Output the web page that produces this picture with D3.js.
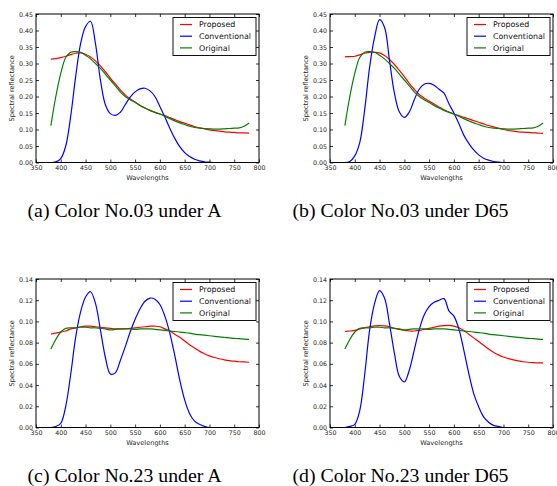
<!DOCTYPE html>
<html>
<head>
<meta charset="utf-8">
<script src="https://cdn.jsdelivr.net/npm/d3@7"></script>
<style>
  body { margin: 0; background: #fff; }
  svg { display: block; }
  .tick text { font-family: "DejaVu Sans", sans-serif; font-size: 6.3px; fill: #222; }
</style>
</head>
<body>
<div id="chart-area"></div>
<script>
// wavelengths (nm), 10 nm steps
let wavelengths = d3.range(380, 781, 10)

let seriesNames = ["Proposed", "Conventional", "Original"]
let seriesColors = ["#ff0000", "#0000ff", "#008000"]

let xTicks = [350, 400, 450, 500, 550, 600, 650, 700, 750, 800]
let yTicks03 = [0, 0.05, 0.10, 0.15, 0.20, 0.25, 0.30, 0.35, 0.40, 0.45]
let yTicks23 = [0, 0.02, 0.04, 0.06, 0.08, 0.10, 0.12, 0.14]

let captions = ["(a) Color No.03 under A", "(b) Color No.03 under D65",
                "(c) Color No.23 under A", "(d) Color No.23 under D65"]

// Color No.03
let original03 = [0.112, 0.200, 0.270, 0.318, 0.334, 0.336, 0.334, 0.325, 0.314, 0.300,
  0.285, 0.268, 0.250, 0.232, 0.214, 0.200, 0.190, 0.182, 0.173, 0.165,
  0.158, 0.152, 0.147, 0.140, 0.133, 0.126, 0.120, 0.115, 0.110, 0.106,
  0.104, 0.103, 0.102, 0.101, 0.101, 0.102, 0.103, 0.104, 0.105, 0.110, 0.120]
let proposedA03 = [0.313, 0.315, 0.318, 0.322, 0.327, 0.331, 0.332, 0.328, 0.320, 0.308,
  0.293, 0.275, 0.256, 0.238, 0.220, 0.205, 0.193, 0.183, 0.173, 0.165,
  0.158, 0.152, 0.147, 0.142, 0.136, 0.130, 0.124, 0.119, 0.114, 0.109,
  0.105, 0.102, 0.099, 0.097, 0.095, 0.093, 0.092, 0.091, 0.090, 0.090, 0.089]
let conventionalA03 = [0.000, 0.002, 0.012, 0.050, 0.140, 0.260, 0.360, 0.412, 0.428, 0.360,
  0.250, 0.175, 0.148, 0.143, 0.152, 0.175, 0.198, 0.214, 0.223, 0.225,
  0.217, 0.200, 0.170, 0.138, 0.104, 0.073, 0.048, 0.030, 0.018, 0.010,
  0.005, 0.002, 0.001, 0.000, 0.000, 0.000, 0.000, 0.000, 0.000, 0.000, 0.000]
let proposedD6503 = [0.320, 0.321, 0.322, 0.326, 0.331, 0.334, 0.334, 0.332, 0.324, 0.312,
  0.297, 0.279, 0.260, 0.240, 0.222, 0.206, 0.195, 0.186, 0.177, 0.168,
  0.160, 0.153, 0.147, 0.142, 0.137, 0.132, 0.127, 0.122, 0.117, 0.112,
  0.108, 0.104, 0.100, 0.097, 0.095, 0.093, 0.092, 0.091, 0.090, 0.089, 0.088]
let conventionalD6503 = [0.000, 0.003, 0.020, 0.060, 0.160, 0.290, 0.380, 0.433, 0.410, 0.310,
  0.210, 0.153, 0.137, 0.153, 0.190, 0.222, 0.237, 0.240, 0.234, 0.222,
  0.210, 0.178, 0.150, 0.118, 0.083, 0.058, 0.038, 0.023, 0.013, 0.007,
  0.003, 0.001, 0.000, 0.000, 0.000, 0.000, 0.000, 0.000, 0.000, 0.000, 0.000]

// Color No.23
let original23 = [0.074, 0.083, 0.090, 0.0935, 0.094, 0.094, 0.0945, 0.0945, 0.094, 0.094,
  0.0935, 0.093, 0.092, 0.0925, 0.093, 0.093, 0.093, 0.0925, 0.093, 0.093,
  0.093, 0.0925, 0.092, 0.0915, 0.091, 0.0905, 0.090, 0.0895, 0.089, 0.088,
  0.0875, 0.087, 0.0865, 0.086, 0.0855, 0.085, 0.0845, 0.084, 0.0838, 0.0833, 0.083]
let proposedA23 = [0.088, 0.089, 0.090, 0.091, 0.093, 0.094, 0.095, 0.0955, 0.0955, 0.095,
  0.0945, 0.094, 0.0935, 0.093, 0.093, 0.093, 0.0935, 0.094, 0.0945, 0.095,
  0.0955, 0.0955, 0.095, 0.093, 0.091, 0.088, 0.085, 0.0815, 0.078, 0.075,
  0.072, 0.0695, 0.0675, 0.066, 0.0648, 0.0638, 0.063, 0.0625, 0.062, 0.0618, 0.0615]
let conventionalA23 = [0.000, 0.001, 0.004, 0.020, 0.050, 0.085, 0.109, 0.123, 0.128, 0.117,
  0.092, 0.066, 0.0505, 0.0515, 0.063, 0.076, 0.090, 0.102, 0.112, 0.119,
  0.122, 0.121, 0.116, 0.105, 0.089, 0.068, 0.045, 0.026, 0.013, 0.006,
  0.003, 0.001, 0.000, 0.000, 0.000, 0.000, 0.000, 0.000, 0.000, 0.000, 0.000]
let proposedD6523 = [0.0905, 0.091, 0.0915, 0.093, 0.094, 0.095, 0.0958, 0.096, 0.0958, 0.095,
  0.0935, 0.0925, 0.0915, 0.091, 0.091, 0.0915, 0.0925, 0.0935, 0.0945, 0.0955,
  0.096, 0.0962, 0.0955, 0.094, 0.0915, 0.088, 0.0845, 0.081, 0.0775, 0.074,
  0.071, 0.0685, 0.0665, 0.065, 0.0638, 0.0628, 0.062, 0.0615, 0.0612, 0.061, 0.061]
let conventionalD6523 = [0.000, 0.001, 0.003, 0.016, 0.050, 0.092, 0.117, 0.129, 0.122, 0.098,
  0.070, 0.048, 0.043, 0.054, 0.073, 0.092, 0.106, 0.114, 0.118, 0.120,
  0.1215, 0.110, 0.105, 0.093, 0.073, 0.051, 0.032, 0.0195, 0.010, 0.005,
  0.002, 0.001, 0.000, 0.000, 0.000, 0.000, 0.000, 0.000, 0.000, 0.000, 0.000]

let W = 557, H = 486

let svg = d3.select("#chart-area")
  .append("svg")
    .attr("width", W)
    .attr("height", H)

let panels = [
  {left: 36, top: 14, series: [proposedA03, conventionalA03, original03], yTicks: yTicks03, yMax: 0.45, cap: captions[0], capX: 124.5, capY: 217},
  {left: 330, top: 14, series: [proposedD6503, conventionalD6503, original03], yTicks: yTicks03, yMax: 0.45, cap: captions[1], capX: 400.5, capY: 217},
  {left: 36, top: 279, series: [proposedA23, conventionalA23, original23], yTicks: yTicks23, yMax: 0.14, cap: captions[2], capX: 124.5, capY: 482},
  {left: 330, top: 279, series: [proposedD6523, conventionalD6523, original23], yTicks: yTicks23, yMax: 0.14, cap: captions[3], capX: 400.5, capY: 482}
]

let pw = 223, ph = 148.5

panels.forEach(p => {
  let g = svg.append("g")
    .attr("transform", "translate(" + p.left + ", " + p.top + ")")

  let x = d3.scaleLinear().domain([350, 800]).range([0, pw])
  let y = d3.scaleLinear().domain([0, p.yMax]).range([ph, 0])

  // lines (clipped to plot area)
  let clipId = "clip" + p.left + "_" + p.top
  g.append("clipPath").attr("id", clipId)
    .append("rect").attr("width", pw).attr("height", ph)

  let line = d3.line()
    .x((d, i) => x(wavelengths[i]))
    .y(d => y(d))
    .curve(d3.curveCatmullRom.alpha(0.5))

  p.series.forEach((s, i) => {
    g.append("path")
      .attr("clip-path", "url(#" + clipId + ")")
      .attr("d", line(s))
      .attr("fill", "none")
      .attr("stroke", seriesColors[i])
      .attr("stroke-width", 1.2)
  })

  // axes with inward ticks on every side
  g.append("g").attr("class", "axis")
    .attr("transform", "translate(0, " + ph + ")")
    .call(d3.axisBottom(x).tickValues(xTicks).tickSizeInner(-3).tickSizeOuter(0).tickPadding(3))
  g.append("g").attr("class", "axis")
    .call(d3.axisTop(x).tickValues(xTicks).tickSizeInner(-3).tickSizeOuter(0).tickFormat(""))
  g.append("g").attr("class", "axis")
    .call(d3.axisLeft(y).tickValues(p.yTicks).tickSizeInner(-3).tickSizeOuter(0).tickPadding(3).tickFormat(d3.format(".2f")))
  g.append("g").attr("class", "axis")
    .attr("transform", "translate(" + pw + ", 0)")
    .call(d3.axisRight(y).tickValues(p.yTicks).tickSizeInner(-3).tickSizeOuter(0).tickFormat(""))

  g.selectAll(".axis .domain").remove()
  g.selectAll(".axis line").attr("stroke", "#000").attr("stroke-width", 0.8)

  g.append("rect")
    .attr("width", pw)
    .attr("height", ph)
    .attr("fill", "none")
    .attr("stroke", "#000")
    .attr("stroke-width", 1)

  // axis labels
  g.append("text")
    .attr("x", pw / 2)
    .attr("y", ph + 17.5)
    .attr("text-anchor", "middle")
    .attr("font-family", "DejaVu Sans, sans-serif")
    .attr("font-size", "6.6px")
    .style("fill", "#222")
    .text("Wavelengths")

  g.append("text")
    .attr("transform", "rotate(-90)")
    .attr("x", -ph / 2)
    .attr("y", -22.5)
    .attr("text-anchor", "middle")
    .attr("font-family", "DejaVu Sans, sans-serif")
    .attr("font-size", "6.6px")
    .style("fill", "#222")
    .text("Spectral reflectance")

  // legend
  let lg = g.append("g")
    .attr("transform", "translate(" + (pw - 86) + ", 3.5)")
  lg.append("rect")
    .attr("width", 83)
    .attr("height", 38)
    .attr("fill", "#fff")
    .attr("stroke", "#111")
    .attr("stroke-width", 1)
  seriesNames.forEach((name, i) => {
    let ly = 7 + i * 11.7
    lg.append("line")
      .attr("x1", 7).attr("x2", 19)
      .attr("y1", ly).attr("y2", ly)
      .attr("stroke", seriesColors[i])
      .attr("stroke-width", 1.2)
    lg.append("text")
      .attr("x", 26)
      .attr("y", ly + 2.8)
      .attr("font-family", "DejaVu Sans, sans-serif")
      .attr("font-size", "7.9px")
      .style("fill", "#111")
      .text(name)
  })

  svg.append("text")
    .attr("x", p.capX)
    .attr("y", p.capY)
    .attr("text-anchor", "middle")
    .attr("font-family", "'Liberation Serif', 'Times New Roman', serif")
    .attr("font-size", "19.8px")
    .style("fill", "#000")
    .text(p.cap)
})
</script>
</body>
</html>
